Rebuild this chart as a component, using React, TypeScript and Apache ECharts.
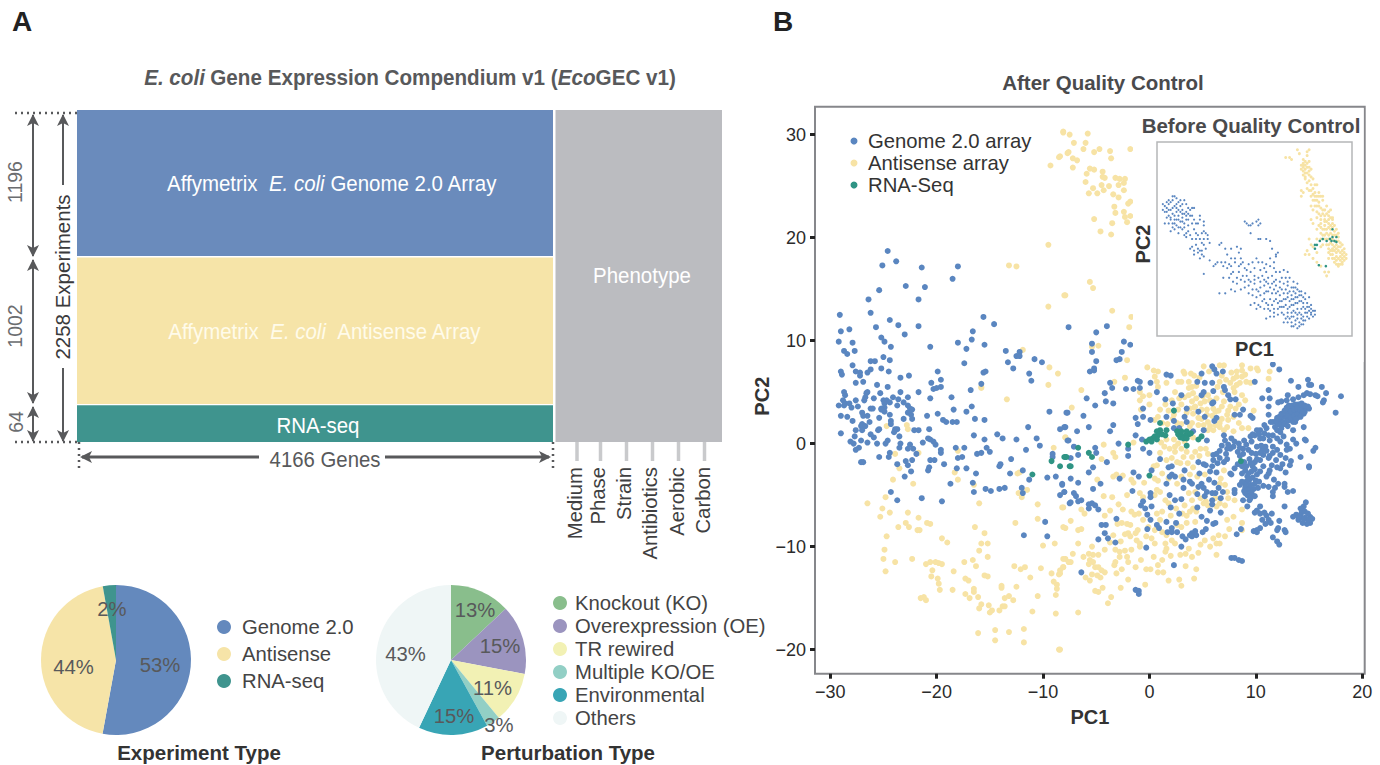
import React, { useEffect, useRef } from "react";
import * as echarts from "echarts";

const FONT = '"Liberation Sans", Arial, sans-serif';
const experimentNames = ["Genome 2.0", "Antisense", "RNA-seq"];
const experimentCounts = [1196, 1002, 64];
const experimentLabels = ["53%", "44%", "2%"];
const experimentColors = ["#6489BD", "#F6E4A8", "#3F948E"];
const perturbationNames = ["Knockout (KO)", "Overexpression (OE)", "TR rewired", "Multiple KO/OE", "Environmental", "Others"];
const perturbationShares = [13, 15, 11, 3, 15, 43];
const perturbationLabels = ["13%", "15%", "11%", "3%", "15%", "43%"];
const perturbationColors = ["#89BE8C", "#9B94BF", "#F2F1B4", "#92CFC5", "#38A5B5", "#EFF6F6"];
const xTicks = [-30, -20, -10, 0, 10, 20];
const yTicks = [-20, -10, 0, 10, 20, 30];

const genomeTopLeft = [[-24.6,18.7],[-23.8,17.7],[-25.1,17.3],[-21.4,17.1],[-18,17.2],[-18.5,16],[-22.9,15.3],[-21.1,15.2],[-25.4,14.9],[-26.4,14],[-21.7,14],[-26.2,12.7],[-29.1,12.5],[-24.4,12],[-23.6,11.5],[-25.7,11.3],[-21.7,11.4],[-15.6,12.3],[-14.6,11.6],[-29,10.9],[-28.2,11.1],[-16.6,10.9],[-23,10.6],[-16.7,10.1],[-25.2,10.3],[-24.9,9.9],[-29.2,9.9],[-27.9,9.8],[-18,9.8],[-24.3,9.4],[-20.6,9.4],[-17.2,9.2],[-15.5,9.6],[-28.7,9],[-28.4,8.7],[-27.7,9],[-13.5,9],[-12.2,8.9],[-12.5,8.5],[-12.2,8.5],[-25,8.4],[-26.2,8],[-25.8,8],[-24.4,8.1],[-10.8,8.2],[-10.1,7.9],[-13.3,7.9],[-17.4,7.8],[-27.9,7.6],[-12.8,7.3],[-25.2,7.3],[-26.2,7.2],[-24.5,7],[-19.9,7],[-29,7],[-28.9,6.7],[-27.6,7],[-27.2,6.9],[-26.5,6.9],[-15.6,6.9],[-15.4,7],[-11.3,6.8],[-23.4,6.4],[-22.6,6.6],[-27.2,6.6],[-19.6,6.2],[-11.1,6.1],[-26.9,6],[-27.6,5.9],[-20.5,5.9],[-25.6,5.7],[-24.6,5.5],[-15.8,5.8],[-19.6,5.5],[-20.3,5.3],[-20,5.4]];
const genomeMidLeft = [[-28.7,5],[-28.6,4.7],[-26.5,5],[-26.6,4.9],[-23.4,5],[-21.7,5],[-16.8,5.2],[-18.6,4.5],[-20.6,4.4],[-26.7,4.5],[-25.9,4.4],[-25.3,4.9],[-28.8,4.2],[-27.6,4.2],[-26.8,4.2],[-25,4.2],[-24.1,4.5],[-24.7,4.2],[-23.6,4.3],[-22.7,4.5],[-23.1,4],[-28.6,3.9],[-28.2,3.9],[-24.9,3.9],[-24.4,4],[-29.2,3.7],[-28.7,3.7],[-28,3.5],[-27.4,3.6],[-26.2,3.4],[-26,3.4],[-25.2,3.4],[-24.9,3.5],[-23.7,3.7],[-22.7,3.7],[-22.5,3.4],[-22.3,3.3],[-16.7,3.6],[-17.2,3.1],[-18.4,3.3],[-9.4,3.1],[-7.8,3],[-27,3],[-24.9,3.1],[-25.2,3.3],[-22.7,3],[-29,2.7],[-28.4,2.6],[-26.9,2.7],[-26.5,2.7],[-24.4,2.8],[-25.4,2.5],[-22.4,2.8],[-22.3,2.4],[-20.9,2.7],[-19.9,2.9],[-23.1,2.4],[-16.4,2.4],[-15.5,2.3],[-19.4,2.3],[-19.1,2.1],[-18.5,2.1],[-18.1,2.1],[-27.9,2.2],[-26.3,2.1],[-27,1.9],[-24.3,2.2],[-24.3,1.9],[-27.1,1.7],[-26.7,1.7],[-11.4,1.6],[-8.4,1.4],[-8,1.6],[-20.7,1.4],[-25.4,1.4],[-25.5,1.3],[-27.6,1.3],[-27,1.3],[-23.9,1.4],[-23.7,1.4],[-24,1.1],[-22.1,1.3],[-21.7,1.3],[-29,1],[-26.2,0.9],[-25.9,0.6],[-27.7,0.7],[-23.5,0.7],[-16.5,0.8],[-14.3,0.9],[-13.8,0.5],[-12.5,0.4],[-10.6,0.5],[-15.5,0.4],[-20.8,0.5],[-20.6,0.4],[-20.3,0.2],[-21.3,0.1],[-28.1,0.2],[-27.8,0],[-27.1,0.3],[-26.5,0.1],[-25.6,0],[-24.8,0],[-24.6,0.3],[-23.4,0],[-22.5,-0.1],[-20.1,-0.1],[-10.3,-0.2],[-7.7,0.3],[-23.5,-0.4],[-27.3,-0.4],[-27.6,-0.6],[-22.7,-0.5],[-22.2,-0.5],[-19.6,-0.6],[-18.2,-0.4],[-17.4,-0.4],[-15.3,-0.4],[-11.6,-0.6],[-19.6,-0.9],[-21.9,-1],[-15,-0.8],[-16.2,-1],[-15.8,-0.9],[-24.4,-0.9],[-24.5,-1.3],[-25.4,-1.3],[-18,-1.4],[-17.6,-1.3],[-9.1,-1],[-9.1,-1.3],[-20.6,-1.6],[-20.2,-1.6],[-22.9,-1.7],[-22.3,-1.6],[-13,-1.5],[-27.1,-1.8],[-26.9,-1.8],[-23.7,-2],[-22.7,-2.1],[-19.3,-2],[-14,-2],[-14.1,-2.2],[-20.7,-2.3],[-20.8,-2.6],[-18.1,-2.4],[-17.2,-2.4],[-22.4,-2.7],[-16.3,-2.9],[-13.1,-2.9],[-11.9,-2.6],[-23,-3.2],[-9.6,-3.3],[-8.8,-3.2],[-11.3,-3.5],[-16.6,-3.8],[-18.7,-3.9],[-8.2,-4],[-12,-4.3],[-15.4,-4.4],[-14.9,-4.6],[-14.1,-4.4],[-13.6,-4.3],[-24.3,-4.7],[-16.5,-4.7],[-11.9,-4.8],[-8,-4.7],[-8.4,-5],[-23.7,-5.5],[-21.4,-5.3],[-19.5,-5.6],[-7.5,-5.8],[-9.8,-7.6],[-11.8,-8.9],[-9.6,-9]];
const genomeCentre = [[-7.6,11.3],[-5,10.8],[-4,11.4],[-5.4,9.7],[-5.4,8.9],[-2.4,9.9],[-1.8,9.6],[-2.6,8.9],[-5,8],[-2.8,8.2],[-3.1,8.1],[-5.2,7.3],[-5.6,7],[-5.2,7.1],[-3.7,5.9],[-3.5,5.4],[-4.2,4.9],[-5.9,4.4],[-2.2,5.3],[-1.5,5.3],[-1.1,6.1],[-0.9,6],[0.1,5.9],[0.7,5],[-0.9,5.4],[-4.1,4.1],[-3.4,3.9],[-5.1,3.7],[-7.7,3],[-6.2,2.7],[-0.6,3.4],[-1.3,2.5],[-0.6,2.6],[0.1,2.3],[-1.1,1.9],[-3.4,1.8],[-5.7,1.6],[-3.7,1.2],[-6.8,1.2],[-7.9,1.6],[-1.3,0.8],[-0.7,0.4],[-7.6,0.3],[-7.1,-0.3],[-6.7,-1.1],[-5.1,-0.4],[-5,-0.9],[-2.9,0],[-2,-0.5],[-2,-1.2],[-0.6,-0.5],[0,-0.9],[-7.4,-1.4],[-4,-1.8],[-5.3,-2.3],[-5.7,-2.8],[-7.4,-3.4],[-6.7,-3.8],[-8.2,-3.9],[-5.3,-4.4],[-4.6,-3.9],[-2.8,-3.4],[-1.5,-2.8],[-1,-3.2],[0.2,-2.6],[-1.6,-4.6],[-7.1,-4.8],[-8,-4.7],[-6.9,-5.1],[-6.7,-5.6],[-6.4,-5.5],[-7.4,-5.7],[-5.7,-5.9],[-5.4,-5.8],[-5.1,-6],[-5.7,-6.3],[-4.8,-6.4],[-3.1,-7.3],[-4.5,-7.9],[-4.1,-7.9],[-4.2,-8.7],[-3.9,-9.2],[-4.8,-9.3],[-3.2,-9.6],[-0.3,-10.1],[-6.4,-12.5],[-1.3,-14.2],[-1,-14.3],[-1,-14.6],[2.3,-11.8],[3,-10]];
const genomeUpperRight = [[1.6,6.7],[2,6.6],[4.5,6],[4.9,6.8],[5.2,5.9],[5.9,5.9],[5.9,7.5],[6.1,7.2],[6.3,6.8],[6.9,7],[7,5.5],[7.1,5.2],[6,5.1],[5.1,5],[4.9,4.7],[3,4.7],[1.5,4.3],[2.2,3.9],[7.4,4.7],[7.6,4.3],[8.1,4.3],[9.9,6],[11.6,7.7],[12.2,7.2],[13.3,6.1],[14,5.5],[14.9,6.2],[15,5.7],[15.2,5.7],[16.2,5.5],[16.6,4.9],[18,4.6],[17.5,3],[11.2,5.2],[10.6,4.4],[11.3,4.4],[11.2,3.6],[12.1,4],[12.4,4.1],[13,4.7],[12.9,4.2],[13.5,4.3],[14,4.5],[14.5,4.7],[14.8,4.9],[15.1,4.8],[15.6,4.7],[15.8,4.6],[16.4,4.2],[16.3,4],[11.6,2.1],[12,2],[12.3,2.3],[12,2.5],[12.6,2.6],[12.9,3],[13.2,3.3],[13.5,3.4],[13.8,3.6],[14.2,3.4],[14.6,3.4],[15,3.4],[14.5,2.9],[14.2,2.9],[13.8,3.1],[13.5,2.9],[13.2,2.8],[12.9,2.5],[12.6,2.1],[12.3,1.8],[11.8,1.6],[13.5,2.5],[14,2.6],[13.2,2.3],[13.7,2.1],[14.6,3.1],[14.3,3.9],[8.5,2.8],[9.5,2.7],[9.7,2.5],[10.8,1.8],[11.2,2.8],[11,1.5],[10.4,1.3],[10.1,1.3],[14.5,1.6],[13.5,1.3],[12.6,0.7],[12.3,1.1],[12,1.3],[11.4,2.1],[8.8,3.3],[8,2.8],[6.3,2.5],[6.1,2.2],[5.9,3.9],[6,4],[3.5,3.4],[3.3,2.6],[3.5,2.1],[2.3,2.2],[1.6,2.6],[2.3,1.5],[2.8,1.5],[4.6,3.1],[5.2,2.6],[5.1,1.3],[4.1,1.2],[5.4,0.3],[7,0.8],[9.5,0.7],[9.9,0.8],[10.4,0.5],[10.7,0.5],[11.2,0.8],[11.6,0.8],[12,0.5],[12.3,0.2],[12.9,-0.1],[13.2,-0.5],[13.5,0.4],[13.8,0],[14.6,0.4],[14.7,0.3],[15.6,-0.4],[15.4,-0.7],[14.2,-1.3],[13.3,-1.7],[13.2,-2.1],[15,-2.2],[15,-2.3],[11.6,-0.9],[11.3,-1.2],[10.7,-1.1],[10.4,-1.6],[9.9,-1.8],[9.6,-0.9],[9.3,-0.6],[8.8,-0.5],[8.5,-0.4],[7.9,-0.3],[7.6,-0.5],[7.3,-0.5],[7.7,0.5],[8,0.2],[8.4,0],[9.6,0.2],[10.1,-0.3],[10.6,-0.6],[11.2,-1.4],[12,-0.6],[12.3,-1.1],[12.9,-0.6],[10.1,-1.5]];
const genomeDenseBlob = [[12.2,2.6],[12.4,2.9],[12.7,3.2],[12.9,3.5],[13.1,3.7],[13.4,3.7],[13.7,3.8],[14,3.8],[14.3,3.7],[14.6,3.7],[14.9,3.6],[13,2.8],[13.3,3.1],[13.6,3.3],[13.9,3.4],[14.2,3.2],[14.4,3],[13,2.2],[13.3,2.5],[13.6,2.7],[13.9,2.8],[14.2,2.6],[12.7,1.9],[13,1.7],[12.4,1.5],[12.1,1.9],[11.9,2.2],[13.5,2.1],[13.8,2.4],[9,-4.3],[9.2,-3.2],[9.4,-3.5],[9.7,-3.3],[10,-3.6],[9.8,-4.4],[10.3,-3.7],[9.4,-4.3],[9.6,-5],[9.4,-5.5],[9.2,-5],[9.7,-2.2],[9.9,-2.5],[9.4,-1.5],[10,-1],[10.4,-0.9],[10.9,-0.3],[11,-0.7],[11.6,-0.3],[11.3,0.3],[10.8,1],[10.3,0.9],[9.7,0.9],[8.9,0.3],[9.1,-0.1],[8.3,-0.8],[7.4,-0.1],[7.1,0.3],[6.8,-0.2],[7.2,-1],[6.6,-0.7],[6.4,-1.9],[7.3,-1.5],[12.8,-1.4],[12.5,-2],[11.9,-1.6],[11.5,-2.1],[10.5,-0.2],[8.8,-1],[8.5,-1.2],[8.3,-2],[8.9,-1.8],[9,-2.6],[8.7,-2.2]];
const genomeLowerRight = [[9.5,-1.9],[9.1,-2.2],[9.3,-2.9],[9.6,-2.7],[10.1,-3],[10.4,-2.7],[10.7,-2.2],[11.3,-2.6],[12,-2.3],[12.3,-2.4],[12.8,-2.8],[11.2,-2.9],[11,-3.2],[11.7,-3.5],[12.1,-3.9],[12.7,-3.9],[12.7,-4.2],[11.8,-4.3],[11.2,-4.2],[10.7,-4.1],[10.2,-4.3],[9.9,-3.9],[9.5,-4],[9.1,-3.7],[9,-4],[9.3,-4.5],[9.6,-4.7],[9.9,-5.1],[9,-4.8],[13,-4.7],[13.5,-4.6],[11.6,-4.7],[11.6,-5.1],[9.5,-5.3],[9.2,-6.1],[12.7,-6.1],[6,-1.1],[6.3,-1],[6.6,-1.4],[7,-1.8],[6,-1.6],[7.6,-2.9],[8.7,-2.9],[8,-2.4],[7.7,-3],[4.6,-1.8],[5.1,-2],[5.3,-2.1],[5.7,-2.7],[6.3,-2.8],[5.9,-2.2],[4.7,-2.9],[1,-1.5],[2.1,-2.2],[1.8,-2.3],[3.3,-2.6],[2.1,-3],[2.4,-3.2],[1.9,-3.2],[1.6,-3.9],[3.2,-3.5],[3.8,-3.7],[4,-3.9],[3.2,-4.3],[5.6,-3.5],[6.1,-3.8],[4.6,-4.2],[4.9,-3.9],[5.1,-4.3],[6.5,-4.3],[6.9,-4.7],[6.7,-5.3],[5.4,-4.7],[5.9,-4.8],[6.2,-4.8],[4.5,-4.9],[5.2,-5.1],[5.9,-5.5],[5.9,-5.9],[1.9,-5],[2.4,-5.5],[3,-5.4],[0.1,-4.8],[0.1,-5.2],[-0.6,-5.6],[-0.8,-6],[0.2,-6.1],[-0.4,-6.3],[2,-6.2],[4.5,-6.2],[5.7,-6.5],[6.7,-6.7],[2.8,-6.8],[-0.2,-6.9],[0.1,-7.4],[4.9,-7.1],[5.4,-7.5],[1.6,-7.6],[2.5,-7.7],[0.7,-7.9],[0.9,-8.2],[6,-7.8],[6.2,-7.7],[2.1,-8.2],[-0.2,-8.3],[1.7,-8.6],[2.1,-8.6],[2.6,-8.6],[5.3,-8.3],[5,-8.6],[4.3,-8.5],[4,-8.7],[4.4,-8.9],[3.8,-8.9],[3.1,-9],[3.4,-9.3],[4,-9],[8.7,-3.7],[8.5,-4],[8.9,-4.6],[8,-4.5],[8,-4.8],[8.8,-5.5],[10.4,-6.1],[10.1,-6.5],[9.9,-6.7],[10.4,-6.8],[10.8,-6.7],[11,-7],[10.6,-7.4],[11.2,-7.4],[11.5,-6.8],[11.4,-7.7],[10.9,-7.8],[12.2,-7.5],[12.1,-8.2],[12,-8.4],[12.7,-8.4],[12.8,-8.6],[10.4,-8.2],[10.1,-8.4],[9.8,-8.5],[10.1,-8.6],[8.6,-8.3],[8.2,-8.8],[11.6,-9.1],[12,-9.5],[12.2,-9.8],[7.7,-11.1],[8,-11.1],[8.4,-11.3],[8.7,-11.4],[14.7,-5.7],[14.5,-6.1],[14.2,-6.3],[15.1,-7.1],[13.8,-6.9],[13.5,-7.1],[14,-7.4],[14.3,-6.7],[14.6,-6.6],[14.9,-6.8],[15.3,-7.3],[15.1,-7.7],[14.8,-7.8],[14.4,-7.7],[14.2,-7.1],[14.6,-7.2],[14.9,-7.4],[14.5,-7.3],[14,-7.1]];

const antisenseTop = [[-8.1,30.3],[-7.5,30],[-5.8,30.1],[-7.1,29.2],[-6,29.2],[-6.2,28.6],[-7.6,28.3],[-5.2,28.3],[-4.7,28.6],[-3.7,28.4],[-1.8,28.6],[-7.2,27.7],[-6.8,27.5],[-3.6,27.7],[-8.4,27.9],[-7.2,26.8],[-5.6,26.7],[-5.2,26.6],[-5.9,26.2],[-4.4,26.4],[-4.4,25.9],[-4.2,25.8],[-3.2,25.8],[-2.8,25.7],[-2.3,25.7],[-6,25.4],[-2.4,25.3],[-4.5,25.1],[-3.8,25],[-2.9,25.1],[-5.3,24.8],[-4.3,24.6],[-2.4,24.6],[-5.7,24.3],[-4.9,24.3],[-3.4,24.2],[-2.9,23.9],[-1.8,23.5],[-2,23.3],[-3.3,23],[-2.4,22.5],[-3.2,22.4],[-1.8,22.1],[-2.3,22],[-5.2,21.8],[-2.1,21.5],[-3.5,21.4],[-4.6,20.6],[-3.6,20.3],[-5.6,15.7],[-5.3,15.1],[-7.9,14.4],[-3.5,12.9],[-1.7,12.3],[-1.9,11.3],[-4.8,9.5],[-5.4,9.4],[-2.1,8.1],[-8.1,30.2],[-8.5,27.8],[-9.3,27],[-7.7,28.2],[-9.5,19.3],[-13.2,17.3],[-12.5,17.2],[-8,14.4],[-9.5,13.3],[-11.9,9.1],[-9.4,7.4],[-8.6,6.8],[-9.5,5.7],[-15.8,5.5]];
const antisenseLowerLeft = [[-15.8,5.4],[-13.4,4.3],[-24.7,1.7],[-22.8,1.8],[-22.7,1.4],[-7.9,0.6],[-9,-0.4],[-21.7,-0.9],[-18,-0.7],[-23.9,-1],[-23.5,-2.4],[-18.3,-2.8],[-12.4,-2.9],[-12.2,-2.8],[-24.1,-3.5],[-18,-3.5],[-22.2,-3.9],[-16.5,-4],[-11.5,-4.5],[-12.3,-4.8],[-12,-5.2],[-24.8,-5.2],[-26.5,-5.8],[-16,-5.8],[-10.5,-5.9],[-8.2,-6.2],[-25.1,-6.3],[-24.4,-6.7],[-25.3,-7.1],[-22.7,-6.7],[-21.7,-7.2],[-10.5,-7.3],[-22.9,-7.7],[-20.9,-7.7],[-20.6,-7.8],[-12.6,-7.7],[-23.6,-8.1],[-22.6,-8.1],[-21.8,-8.4],[-21.6,-8.4],[-16.4,-8.1],[-7.9,-8.2],[-15.5,-8.7],[-24.7,-9],[-19.5,-9.2],[-19,-9.6],[-15.8,-9.7],[-15.2,-9.7],[-10,-9.9],[-8.9,-9.7],[-24.9,-10.3],[-16,-10.4],[-15.2,-11],[-25,-11.2],[-23.9,-11.5],[-22.3,-11.2],[-21,-11.7],[-20.6,-11.5],[-20.1,-11.5],[-19.8,-11.6],[-19.5,-11.7],[-17.4,-11.5],[-16.6,-11.3],[-16.3,-11.9],[-12.7,-11.9],[-12.1,-12.2],[-11.7,-12],[-10.2,-12.1],[-7.9,-11.2],[-7.6,-11.5],[-8.4,-12.3],[-8.1,-12],[-24.8,-12.4],[-20.4,-12.3],[-18.4,-12.4],[-9.2,-12.6],[-8.5,-12.7],[-20.5,-12.9],[-15.5,-12.8],[-15.2,-12.9],[-19.9,-13.1],[-17.3,-13.1],[-17,-13.3],[-11.2,-13],[-9,-13.4],[-19.8,-13.6],[-8.7,-13.7],[-13.9,-13.8],[-12.5,-13.9],[-8.7,-14.1],[-19.7,-14.2],[-18.5,-14.2],[-16.5,-14.1],[-13.9,-14],[-17.3,-14.6],[-16.5,-14.4],[-8.8,-14.7],[-10.5,-14.8],[-21.5,-15],[-21.2,-14.9],[-21,-15.2],[-16.9,-15],[-16.1,-14.9],[-13.6,-15],[-13.2,-14.8],[-12.8,-15.2],[-15.8,-15.6],[-15.1,-15.7],[-16,-16],[-14.8,-16.2],[-15,-16.4],[-14.1,-16.2],[-13.8,-15.8],[-13.6,-15.8],[-11,-16.3],[-8.8,-16.5],[-11.8,-18],[-14.5,-18.1],[-13.2,-18.3],[-16.1,-18.4],[-14.5,-19.1],[-11.8,-19.3],[-8.5,-20]];
const antisenseUpperRight = [[1.6,5.9],[0.8,7],[0.5,6.5],[0.4,7.1],[-0.2,7.4],[0.7,6],[0.8,5.5],[-2.3,6.4],[-3.3,6],[-6.4,5.2],[-0.9,5],[-0.6,4.6],[0,4.7],[-0.9,4.2],[0,3.8],[-0.8,3.3],[-7.3,3.5],[-4.3,-0.1],[-7.9,0.6],[2.7,6],[3.3,6.8],[3.9,6.8],[3.7,6],[3,6],[5.1,7.5],[6.6,7.6],[7,7.6],[7.7,6.9],[8.2,7],[8.7,7.1],[7.9,6.3],[8.2,6.5],[8.7,6.5],[9,6.7],[9.1,6],[8.5,5.9],[8.2,5.7],[7.9,5.4],[7.6,5.9],[8,5],[8.7,4.7],[9.5,5.9],[9.5,7.3],[10.1,7.3],[10.2,7.1],[11.3,7],[11.2,6.3],[8.7,7.6],[3.7,5.4],[4,5.5],[4.1,4.9],[3.7,4.7],[4.4,4.4],[4,4.1],[4.8,3.9],[4.3,3.6],[4.6,2.5],[4.1,2.9],[4.9,3.3],[5.4,3.3],[5.4,2.8],[4.6,1.8],[5.1,1.8],[5.5,2.1],[5.5,1.3],[6,1.3],[6.6,1.6],[7.3,2.8],[7.4,2.3],[7.3,1.6],[7.9,2.6],[8.4,2],[8.7,1.5],[9.3,1.5],[9.8,3.2],[3,3.8],[2.7,3.3],[2.3,2.8],[1,3.3],[0.8,2.6],[0.5,2.3],[1.5,3.8],[4,2],[3.8,1.7],[5.7,4.2],[6.2,3.1],[6.8,3.6],[7,4.1],[5,4.6],[4.4,5.6],[3.5,3],[4.9,2.4],[6.8,2.4],[6.2,1.8],[7.9,1.2],[3,1.9],[3.2,7],[4.2,6.6],[4.7,6.4],[5.6,7],[6.8,6.6],[7.2,6.2],[6.6,6],[6.9,5],[6.4,5.5],[5.5,4.7],[6.3,4.4],[5.2,4.1],[6,3.4],[7.6,3.6],[6.5,3.2],[7.4,3.2],[8.1,3.4],[8.4,3.8],[9,4.2],[5.9,2.7],[6.6,2],[7,1.3],[5.7,1.7],[4.2,3.5],[3.8,3.4],[3.3,4.5],[2.8,4.4],[2.4,5],[2.1,4.2],[1.8,3.2],[1.2,2],[1.7,1.9],[2.2,2.4],[2.6,2]];
const antisenseLowerRight = [[1.6,0.4],[2.3,0.4],[2.7,0],[3,-0.5],[3.5,-0.8],[1.9,-0.5],[2.4,-0.8],[2.1,-1.4],[2.6,-1.8],[2.9,-1.9],[1.6,-1.6],[4,-1.3],[4.3,-0.8],[0.4,-2.2],[0.7,-2.1],[1.2,-2.9],[0.5,-3.4],[-0.5,-3.8],[0.8,-3.6],[1.8,-3.4],[2.6,-3.9],[0.7,-4.5],[1,-4.7],[-0.9,-4.8],[-0.6,-5.2],[0.5,-5],[1.5,-5.5],[1.8,-5.8],[3.7,-4.8],[4,-5.5],[4.3,-4.7],[4.8,-5.3],[4.1,-6.3],[3.8,-6.6],[4.4,-6.6],[5.1,-5.8],[6.6,-3.9],[7.1,-4],[7.3,-4.7],[7.4,-5.3],[8,-5.5],[8.7,-6.4],[6.3,-6.1],[7.3,-7.4],[7.9,-7.1],[8.7,-7.7],[7.5,-8.3],[8.7,-8.4],[7.1,-9],[6.5,-8.9],[6,-9.2],[6.3,-9.7],[6.6,-9.7],[5.7,-10],[6.3,-10.8],[4.3,-7.6],[3.5,-7.7],[3,-8.1],[2.6,-7.9],[1.6,-8.9],[1.2,-8.6],[0.5,-8.4],[0.2,-9.2],[0.5,-9.7],[1.6,-10.2],[1.5,-10.5],[2.1,-9.4],[2.4,-9.7],[3.7,-10.2],[3.4,-10.7],[2.9,-10.8],[1.2,-11.3],[0.4,-11],[0.8,-11.8],[3.4,-11.9],[4.4,-12.2],[-0.3,-12.2],[0.1,-12.2],[0.8,-12.5],[1.3,-12.5],[1.8,-13.3],[2.8,-13.2],[3,-13.8],[4.2,-13.1],[-0.4,-13.7],[-2.7,-14],[-4.4,-14],[-4.8,-14.4],[-5.1,-14.3],[-3.6,-14.9],[-3.9,-15.5],[-6.7,-16.4],[-8.4,-20],[-2.1,-7.8],[-1.8,-7.9],[-1.1,-8.4],[-1.3,-8.7],[-2,-8.7],[-2.3,-8.8],[-3.4,-8.9],[-1.2,-9.4],[-0.9,-9.7],[-0.9,-10],[-1.7,-10.3],[-2.3,-10.4],[-2.8,-10.5],[-3.2,-10.3],[-4.2,-10.3],[-5.4,-10],[-6.7,-9.7],[-4.8,-10.8],[-5.3,-10.8],[-5.7,-10.7],[-6.2,-11],[-7.2,-10.7],[-5.6,-11.3],[-5.3,-11.5],[-5.7,-11.7],[-5.1,-12],[-4.8,-12],[-4.5,-12.3],[-4.2,-12.5],[-3.2,-11.5],[-2.8,-11],[-2.1,-11],[-2,-11.5],[-3.3,-11.8],[-2.6,-12.2],[-3.1,-12.6],[-1.3,-12],[-0.8,-11.3],[-8.1,-11.2],[-7.4,-11.5],[-8.1,-12],[-8.4,-12.6],[-5.4,-12.7],[-4.9,-12.8],[-4.6,-13],[-6,-13],[-5.6,-13.3],[-2,-13.2],[-6.7,-8.4],[-6.4,-8.3],[-8.1,-8.1],[-7.4,-7.5],[-8.1,-6.2],[-6.4,-6.4],[-6.1,-6.8],[-4.2,-7],[-3.7,-6.5],[-2.5,-6.4],[-2.9,-5.9],[-4.3,-5.1],[-3.5,-5.2],[-2.1,-5],[-3.4,-3.2],[-3.1,-3],[-2.5,-3.1],[-4.9,-3.5],[-1.7,-3.5],[-1.5,-3.8],[-4.5,-1.5],[-3.4,-0.9],[-3.2,-1.3],[-1.5,0.1],[-2.6,-7.7],[-1,-6.8],[-1.7,-6.6],[-1.4,-6.9],[-0.6,-7.4],[3.3,0.2],[4.1,0.6],[2.4,-0.3],[1.1,0.1],[1.4,-0.3],[1,-0.9],[4.8,-0.5],[5.3,-0.5],[4.7,-1.2],[5.5,-1],[3.2,-1.3],[3.6,-1.9],[4.1,-2.3],[3.8,-3],[3,-3.2],[4.5,-3.2],[5.2,-3],[6.7,-3.4],[7,-2.6],[6.2,-5.3],[6.6,-5.8],[7.1,-6],[5.5,-6],[5.3,-5.6],[3.3,-6],[3.1,-6.8],[2.5,-6.3],[1.2,-6.6],[0.7,-6.8],[1,-7.4],[2,-7],[3.5,-7],[1.5,-9.7],[4.8,-9.8],[5.2,-9.4],[4.6,-10.6],[4,-11],[2,-10.9],[-1.8,-9],[-2.7,-9.5],[-3.7,-9.6],[-0.3,-9],[-0.1,-8.1],[-3,-7.8]];

const rnaSeqPoints = [[-9.2,-1.7],[-8.4,-2.2],[-11,-3],[-8,-1.3],[-7.8,-1.3],[-7.5,-2.2],[-6.7,-0.4],[-5.7,-0.9],[-5.4,-1.3],[-7.9,-1.3],[-7.4,-2.2],[-2,-0.1],[0,-3.1],[8.6,-1.7],[2.3,3.2],[1,2],[-0.3,0.2],[0,0.4],[0.3,0.5],[0.5,0.7],[0.8,0.8],[1.2,0.9],[1.5,0.8],[1.6,1.3],[1,1.3],[0.7,1.2],[0.2,0.2],[0.7,0.4],[2.7,0.9],[3,0.8],[3.4,0.8],[3.7,0.9],[3.9,1],[2.9,0.6],[3.2,0.5],[3.5,0.5],[2.6,1.2],[3,1.2],[3.5,1.2],[4.6,0.4],[4.9,0.7],[3.5,-0.2]];

const insetGenome = [[4,67],[5,66],[6,68],[7,69],[8,70],[9,72],[10,71],[5,64],[7,65],[9,67],[11,69],[12,67],[14,70],[15,68],[16,66],[17,65],[18,66],[19,66],[8,63],[10,64],[11,62],[12,64],[13,65],[14,63],[15,62],[13,61],[12,59],[14,58],[16,60],[17,62],[7,60],[6,58],[9,58],[10,60],[8,56],[11,56],[7,61],[9,62],[6,62],[10,66],[13,68],[15,64],[16,63],[18,62],[4,58],[5,61],[3,65],[3,68],[20,58],[22,60],[24,59],[22,62],[24,57],[20,53],[19,55],[16,54],[17,52],[15,53],[14,52],[21,52],[23,53],[24,54],[25,53],[26,52],[26,50],[22,50],[20,47],[18,46],[17,45],[19,44],[21,45],[23,44],[24,47],[25,45],[23,42],[21,43],[22,40],[24,41],[27,48],[29,36],[24,32],[27,39],[45,59],[46,58],[47,57],[49,58],[52,60],[53,58],[51,59],[48,57],[52,57],[48,53],[52,50],[53,50],[56,50],[58,49],[59,45],[61,42],[62,43],[61,41],[32,47],[33,48],[35,45],[38,45],[41,46],[43,45],[42,43],[36,42],[38,40],[40,40],[43,40],[37,37],[35,38],[33,38],[31,38],[30,37],[34,36],[36,35],[38,36],[40,38],[42,36],[44,38],[45,35],[47,37],[49,38],[51,40],[52,38],[54,38],[56,37],[55,35],[53,34],[58,40],[60,38],[58,36],[60,35],[61,33],[56,33],[50,35],[48,33],[42,33],[44,31],[43,29],[46,31],[47,29],[50,31],[52,30],[54,31],[55,29],[57,30],[59,31],[61,29],[63,33],[65,34],[67,33],[64,30],[66,30],[68,30],[70,28],[72,27],[71,25],[34,30],[37,30],[39,28],[32,22],[35,22],[38,24],[40,23],[43,24],[45,25],[47,26],[50,27],[49,24],[51,24],[53,25],[55,26],[57,27],[59,27],[61,26],[63,25],[65,27],[67,26],[69,25],[47,22],[49,21],[51,20],[53,21],[55,22],[57,23],[59,22],[61,22],[63,21],[65,22],[67,22],[69,21],[71,22],[73,23],[74,21],[72,20],[75,20],[70,19],[68,18],[66,19],[64,18],[62,17],[60,18],[58,19],[56,17],[54,18],[52,16],[50,17],[48,16],[51,14],[53,15],[55,14],[57,14],[58,13],[56,9],[58,10],[60,10],[63,15],[65,15],[67,14],[69,16],[71,17],[73,18],[75,17],[77,17],[70,13],[72,14],[74,14],[76,14],[78,13],[79,14],[80,13],[76,12],[74,11],[72,11],[70,10],[68,9],[66,9],[67,7],[69,7],[71,6],[73,7],[75,8],[72,9],[70,5],[72,4],[74,6],[76,8],[78,9],[79,11],[77,10],[69,12],[67,12]];
const insetGenomeExtra = [[4,64],[6,65],[8,66],[10,68],[12,70],[6,70],[8,72],[5,69],[11,65],[13,63],[9,60],[11,60],[13,59],[15,60],[8,58],[10,57],[12,56],[14,56],[16,57],[18,58],[19,60],[21,58],[7,54],[9,55],[11,53],[13,55],[15,51],[18,50],[20,50],[24,50],[23,48],[19,42],[22,44],[70,23],[72,24],[74,23],[76,22],[78,20],[76,19],[74,18],[72,17],[70,16],[68,15],[66,16],[64,15],[62,14],[60,14],[59,16],[57,16],[61,19],[63,18],[65,19],[67,20],[69,19],[71,20],[73,21],[75,15],[77,15],[79,16],[78,15],[73,12],[71,12],[69,10],[67,10],[65,11],[75,10],[77,12],[79,12],[81,11],[80,10],[81,13],[73,5],[71,8],[69,5],[74,9],[75,6],[65,7],[64,12],[62,11],[60,12],[55,19],[52,23],[48,28],[45,28],[41,27],[56,23],[58,25],[60,24],[62,23],[64,24],[66,24],[68,23],[70,25],[67,28],[63,28],[60,28],[56,28],[53,28],[50,29],[46,34],[43,37],[39,33],[41,30],[38,32]];
const insetAntisense = [[66,92],[68,92],[69,91],[72,96],[73,94],[77,95],[78,96],[77,93],[75,91],[76,90],[74,88],[75,87],[76,86],[77,87],[78,87],[79,86],[77,84],[78,85],[75,85],[75,83],[76,82],[79,82],[80,81],[81,78],[82,78],[76,81],[77,79],[74,75],[75,74],[74,72],[80,76],[81,74],[82,72],[83,74],[84,72],[81,70],[83,69],[85,70],[79,67],[80,65],[82,67],[84,66],[85,65],[83,63],[85,63],[86,62],[87,63],[88,64],[89,65],[82,61],[84,60],[86,60],[88,60],[89,61],[90,61],[84,58],[86,57],[88,58],[90,58],[91,57],[85,55],[87,55],[89,55],[91,54],[92,55],[86,52],[88,52],[90,52],[92,52],[93,51],[84,50],[87,50],[89,50],[91,49],[93,49],[88,47],[90,47],[92,47],[94,46],[95,47],[89,44],[91,44],[93,44],[95,44],[96,45],[90,42],[92,41],[94,41],[96,41],[91,38],[93,37],[95,37],[97,40],[93,36],[95,38],[92,39],[94,43],[90,40],[88,43],[80,46],[78,42],[76,42],[82,43],[84,46],[82,38],[84,36],[86,33],[88,33],[87,31],[78,50],[79,47],[77,44],[80,40],[82,50],[84,53],[82,55],[80,58],[79,60],[87,67],[85,72],[78,90],[88,40],[89,42],[90,44],[91,46],[92,43],[93,40],[94,39],[95,40],[96,43],[93,46],[92,49],[90,50],[88,50],[86,50],[87,53],[89,53],[91,52],[93,53],[90,56],[88,56],[86,55],[84,56],[86,59],[88,62],[90,60],[84,62],[86,65],[82,64],[83,67],[81,67],[80,70],[82,70],[79,72],[81,72],[78,75],[79,78],[78,80],[75,88],[76,88],[74,86],[77,89],[75,89],[76,84],[78,83],[89,48],[91,40],[92,37],[94,37],[95,42],[96,39],[97,42],[94,48],[92,45],[90,45],[88,45],[87,47],[85,47],[85,52],[83,57],[89,57],[87,59],[83,72],[80,73],[77,76],[79,75]];
const insetRnaSeq = [[90,55],[82,47],[81,45],[83.5,49],[85,50],[87,49],[88.7,50],[90,51],[91,49],[92,48.5],[89.5,49],[92,51],[83,36.5],[86.6,36],[81,47]];

const INK = "#58595b";
const txt = (text: string, x: number, y: number, o: any = {}) => ({
  type: "text", x, y, z: 8, rotation: o.rot || 0, scaleX: o.sx || 1, scaleY: o.sy || 1,
  style: { text, fill: o.color || INK, fontSize: o.size || 20, fontFamily: FONT, fontWeight: o.weight || "normal",
    align: o.align || "center", verticalAlign: "middle", rich: o.rich },
});
const box = (x: number, y: number, width: number, height: number, fill: string, z = 1) => ({ type: "rect", z, shape: { x, y, width, height }, style: { fill } });
const seg = (x1: number, y1: number, x2: number, y2: number, o: any = {}) => ({ type: "line", z: 7, shape: { x1, y1, x2, y2 }, style: { stroke: o.color || INK, lineWidth: o.w || 2, lineDash: o.dash } });
const head = (x: number, y: number, dx: number, dy: number) => ({
  type: "polygon", z: 7,
  shape: { points: [[x, y], [x + dx * 12 - dy * 6, y + dy * 12 - dx * 6], [x + dx * 9, y + dy * 9], [x + dx * 12 + dy * 6, y + dy * 12 + dx * 6]] },
  style: { fill: INK },
});
const richFor = (color: string, size: number, weight: string) => ({
  i: { fontStyle: "italic", fontSize: size, fontFamily: FONT, fill: color, color, fontWeight: weight },
  n: { fontSize: size, fontFamily: FONT, fill: color, color, fontWeight: weight },
});

const panelGraphics = [
  box(77, 110, 476, 146, "#6A8BBC"), box(77, 257.5, 476, 146.5, "#F6E4A8"), box(77, 405.3, 476, 36.7, "#3F948E"), box(555.5, 110, 166.5, 332, "#BBBCC0"),
  txt("A", 22, 21, { size: 28, weight: "bold", color: "#222" }), txt("B", 783, 21, { size: 28, weight: "bold", color: "#222" }),
  txt("{i|E. coli} {n|Gene Expression Compendium v1 (}{i|Eco}{n|GEC v1)}", 410, 77, { sx: 0.96, rich: richFor(INK, 21.5, "bold") }),
  txt("{n|Affymetrix  }{i|E. coli} {n|Genome 2.0 Array}", 332, 184, { sx: 0.93, rich: richFor("#fff", 22, "normal") }),
  txt("{n|Affymetrix  }{i|E. coli}{n|  Antisense Array}", 325, 332, { sx: 0.93, rich: richFor("#FFFBEA", 22, "normal") }),
  txt("RNA-seq", 318, 426, { size: 22, sx: 0.93, color: "#fff" }),
  txt("Phenotype", 642, 276, { size: 22, sx: 0.93, color: "#fff" }),
  seg(15, 113, 77, 113, { dash: [2, 4], w: 2.5 }), seg(15, 442, 77, 442, { dash: [2, 4], w: 2.5 }),
  seg(79, 442, 79, 468, { dash: [2, 4], w: 2.5 }), seg(553, 442, 553, 468, { dash: [2, 4], w: 2.5 }),
  seg(33, 115, 33, 256), head(33, 114, 0, 1), head(33, 257, 0, -1),
  seg(33, 260, 33, 403), head(33, 259, 0, 1), head(33, 404, 0, -1),
  seg(33, 407, 33, 441), head(33, 406, 0, 1), head(33, 442, 0, -1),
  seg(63, 115, 63, 185), head(63, 114, 0, 1),
  seg(63, 368, 63, 441), head(63, 442, 0, -1),
  seg(82, 457, 259, 457, { w: 3 }), head(80, 457, 1, 0), seg(385, 457, 549, 457, { w: 3 }), head(551, 457, -1, 0),
  txt("4166 Genes", 325, 459, { size: 22, sx: 0.925 }),
  txt("1196", 15, 182, { rot: Math.PI / 2, size: 19.5, color: "#6b6d70" }),
  txt("1002", 15, 326, { rot: Math.PI / 2, size: 19.5, color: "#6b6d70" }),
  txt("64", 16, 422, { rot: Math.PI / 2, size: 19.5, color: "#6b6d70" }),
  txt("2258 Experiments", 62, 277, { rot: Math.PI / 2, size: 20.5, color: "#3a3a3c" }),
  ...[577, 600.5, 626.5, 652.5, 678.5, 704.5].map((x) => seg(x, 442, x, 461, { color: "#C9CACC", w: 3.5 })),
  ...[["Medium", 574.5], ["Phase", 598], ["Strain", 624], ["Antibiotics", 650], ["Aerobic", 677], ["Carbon", 703]].map(([t, x]) =>
    txt(t as string, x as number, 467, { rot: Math.PI / 2, size: 20.3, align: "right", color: "#3f3f41" })),
  txt("Experiment Type", 199, 752, { size: 20.5, weight: "bold", color: "#333" }),
  txt("Perturbation Type", 568, 752, { size: 20.5, weight: "bold", color: "#333" }),
  txt("After Quality Control", 1103, 82, { size: 20.5, weight: "bold", color: "#4a4a4c" }),
  { ...box(1133, 108, 230.6, 254, "#fff", 3) },
  txt("Before Quality Control", 1251, 125, { size: 20.5, weight: "bold", color: "#4a4a4c" }),
];

const pie1Spots = [[160, 665], [73.6, 667], [112, 609]];
const pie2Spots = [[475, 610], [500, 646], [492.5, 688], [499, 725], [454, 716], [405.5, 654]];

const pie = (name: string, cx: number, names: string[], values: number[], colors: string[], labels: string[], spots: number[][]) => ({
  type: "pie", name, center: [cx, 660], radius: [0, 75], startAngle: 90, silent: true, avoidLabelOverlap: false, z: 4,
  labelLine: { show: false },
  label: { show: true, position: "inside", fontSize: 20.3, fontFamily: FONT, color: INK, formatter: (p: any) => labels[p.dataIndex] },
  labelLayout: (p: any) => ({ x: spots[p.dataIndex][0], y: spots[p.dataIndex][1], align: "center", verticalAlign: "middle" }),
  data: names.map((n, i) => ({ name: n, value: values[i], itemStyle: { color: colors[i] } })),
});

const dots = (name: string, data: number[][], color: string, axis: number, size: number, z: number) => ({
  type: "scatter", name, data, xAxisIndex: axis, yAxisIndex: axis, symbol: "circle", symbolSize: size, z, silent: true,
  itemStyle: { color, opacity: 1 },
});

const legendBase = (names: string[], left: number, top: number, size: number, gap: number, pad: number, color: string) => ({
  data: names, left, top, orient: "vertical", icon: "circle", itemWidth: size, itemHeight: size, itemGap: gap, padding: 0,
  selectedMode: false, z: 8, textStyle: { fontSize: 20.3, fontFamily: FONT, color, padding: [0, 0, 0, pad] },
});

const minus = (v: number) => String(v).replace("-", "\u2212");
const nameStyle = { fontSize: 20, fontWeight: "bold", fontFamily: FONT, color: "#333" };

export default function App() {
  const ref = useRef<HTMLDivElement>(null);
  useEffect(() => {
    const chart = echarts.init(ref.current!, null, { renderer: "svg" });
    chart.setOption({
      animation: false,
      backgroundColor: "#fff",
      graphic: { elements: panelGraphics },
      legend: [
        legendBase(experimentNames, 217, 617, 14, 7, 6, "#444"),
        legendBase(perturbationNames, 553, 593, 14, 3, 3, "#444"),
        legendBase(["Genome 2.0 array", "Antisense array", "RNA-Seq"], 850.5, 131, 7, 2, 5.5, "#333"),
      ],
      grid: [
        { left: 815, top: 106.7, width: 549.7, height: 567, show: true, borderColor: "#86878b", borderWidth: 2, containLabel: false },
        { left: 1157, top: 142, width: 195, height: 194, show: true, borderColor: "#B5B6B8", borderWidth: 1.5, z: 5 },
      ],
      xAxis: [
        { type: "value", gridIndex: 0, min: -31.43, max: 20.23, name: "PC1", nameLocation: "middle", nameGap: 33, nameTextStyle: nameStyle,
          axisLine: { show: false, onZero: false }, splitLine: { show: false },
          axisTick: { show: true, length: 5, lineStyle: { color: "#222", width: 3 }, customValues: xTicks },
          axisLabel: { fontSize: 18, fontFamily: FONT, color: "#2b2b2b", margin: 9, customValues: xTicks, formatter: minus } },
        { type: "value", gridIndex: 1, min: 0, max: 100, z: 5, name: "PC1", nameLocation: "middle", nameGap: 3, nameTextStyle: nameStyle,
          axisLine: { show: false, onZero: false }, splitLine: { show: false }, axisTick: { show: false }, axisLabel: { show: false } },
      ],
      yAxis: [
        { type: "value", gridIndex: 0, min: -22.34, max: 32.71, name: "PC2", nameLocation: "middle", nameGap: 40, nameTextStyle: { ...nameStyle, padding: [0, 12, 0, 0] },
          axisLine: { show: false, onZero: false }, splitLine: { show: false },
          axisTick: { show: true, length: 5, lineStyle: { color: "#222", width: 3 }, customValues: yTicks },
          axisLabel: { fontSize: 18, fontFamily: FONT, color: "#2b2b2b", margin: 9, customValues: yTicks, formatter: minus } },
        { type: "value", gridIndex: 1, min: 0, max: 100, z: 5, name: "PC2", nameLocation: "middle", nameGap: 4, nameTextStyle: { ...nameStyle, padding: [0, 10, 0, 0] },
          axisLine: { show: false, onZero: false }, splitLine: { show: false }, axisTick: { show: false }, axisLabel: { show: false } },
      ],
      series: [
        pie("Experiment Type", 116, experimentNames, experimentCounts, experimentColors, experimentLabels, pie1Spots),
        pie("Perturbation Type", 451, perturbationNames, perturbationShares, perturbationColors, perturbationLabels, pie2Spots),
        dots("Antisense array", [...antisenseTop, ...antisenseLowerLeft, ...antisenseUpperRight, ...antisenseLowerRight], "#F7E3A5", 0, 6, 2),
        dots("Genome 2.0 array", [...genomeTopLeft, ...genomeMidLeft, ...genomeCentre, ...genomeUpperRight, ...genomeDenseBlob, ...genomeLowerRight], "#5A86C0", 0, 6, 2.1),
        dots("RNA-Seq", rnaSeqPoints, "#2F9484", 0, 6, 2.2),
        dots("Before antisense", insetAntisense, "#F7E3A5", 1, 3, 5),
        dots("Before genome", [...insetGenome, ...insetGenomeExtra], "#5A86C0", 1, 2.2, 5.1),
        dots("Before RNA-Seq", insetRnaSeq, "#2F9484", 1, 2.6, 5.2),
      ],
    });
    return () => chart.dispose();
  }, []);
  return <div ref={ref} style={{ position: "absolute", left: 0, top: 0, width: 1380, height: 765 }} />;
}
